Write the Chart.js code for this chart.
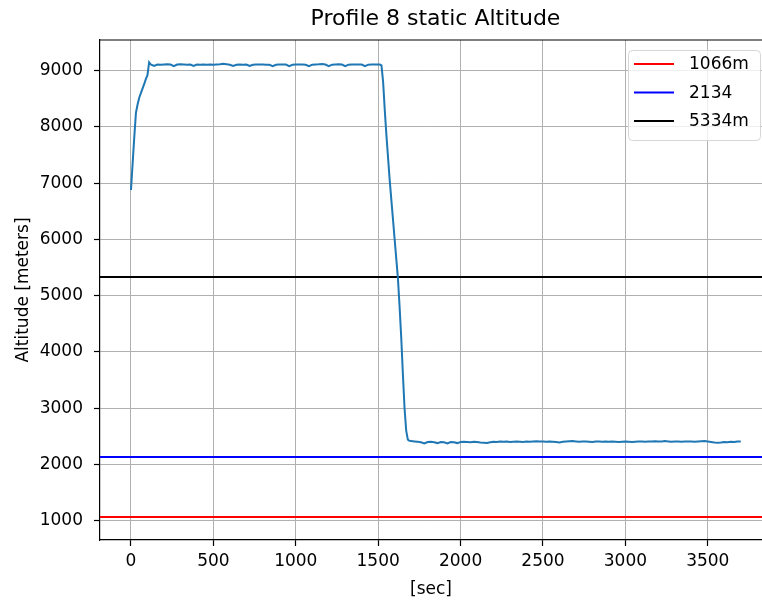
<!DOCTYPE html>
<html>
<head>
<meta charset="utf-8">
<script src="https://cdn.jsdelivr.net/npm/chart.js@4"></script>
<style>
  body { margin: 0; background: #fff; }
</style>
</head>
<body>
<canvas id="myChart" width="762" height="600"></canvas>
<script>
// measured profile: time [sec] and altitude [m]
var times = [
  0, 10, 20, 30, 40, 50, 60, 70, 80, 90, 100, 110,
  120, 140, 160, 180, 200, 220, 240, 260, 280, 300, 320, 340, 360, 380, 400, 420, 440, 460, 480, 500,
  520, 540, 560, 580, 600, 620, 640, 660, 680, 700, 720, 740, 760, 780, 800, 820, 840, 860, 880, 900,
  920, 940, 960, 980, 1000, 1020, 1040, 1060, 1080, 1100, 1120, 1140, 1160, 1180, 1200, 1220, 1240, 1260,
  1280, 1300, 1320, 1340, 1360, 1380, 1400, 1420, 1440, 1460, 1480, 1500, 1510, 1520,
  1530, 1540, 1550, 1560, 1570, 1580, 1590, 1600, 1610, 1620, 1630, 1640, 1650, 1660, 1670, 1680, 1690,
  1700, 1720, 1740, 1760, 1780, 1800, 1820, 1840, 1860, 1880, 1900, 1920, 1940, 1960, 1980, 2000,
  2020, 2040, 2060, 2080, 2100, 2120, 2140, 2160, 2180, 2200, 2220, 2240, 2260, 2280, 2300, 2320,
  2340, 2360, 2380, 2400, 2420, 2440, 2460, 2480, 2500, 2520, 2540, 2560, 2580, 2600, 2620, 2640,
  2660, 2680, 2700, 2720, 2740, 2760, 2780, 2800, 2820, 2840, 2860, 2880, 2900, 2920, 2940, 2960,
  2980, 3000, 3020, 3040, 3060, 3080, 3100, 3120, 3140, 3160, 3180, 3200, 3220, 3240, 3260, 3280,
  3300, 3320, 3340, 3360, 3380, 3400, 3420, 3440, 3460, 3480, 3500, 3520, 3540, 3560, 3580, 3600,
  3620, 3640, 3660, 3680, 3700
];
var altitude = [
  6880, 7350, 7820, 8250, 8400, 8520, 8600, 8680, 8760, 8850, 8920, 9150,
  9110, 9085, 9110, 9105, 9110, 9115, 9110, 9080, 9110, 9115, 9110, 9105, 9110, 9085, 9110, 9105, 9110, 9108, 9110, 9105,
  9110, 9115, 9125, 9115, 9105, 9085, 9105, 9110, 9108, 9110, 9085, 9105, 9110, 9112, 9110, 9108, 9105, 9080, 9105, 9110,
  9112, 9110, 9082, 9105, 9110, 9112, 9110, 9105, 9080, 9108, 9112, 9115, 9120, 9110, 9082, 9108, 9112, 9115,
  9110, 9082, 9108, 9112, 9110, 9112, 9110, 9080, 9108, 9112, 9112, 9112, 9110, 9095,
  8800, 8300, 7850, 7450, 7050, 6700, 6350, 6000, 5650, 5300, 4800, 4250, 3600, 3000, 2600, 2440, 2420,
  2415, 2410, 2405, 2395, 2375, 2400, 2405, 2395, 2380, 2400, 2395, 2375, 2400, 2395, 2380, 2400,
  2405, 2400, 2395, 2405, 2400, 2390, 2385, 2380, 2395, 2405, 2400, 2410, 2405, 2410, 2400, 2405,
  2410, 2405, 2400, 2410, 2405, 2410, 2412, 2408, 2410, 2405, 2408, 2405, 2400, 2390, 2405, 2410,
  2412, 2415, 2410, 2405, 2408, 2410, 2405, 2400, 2408, 2410, 2405, 2408, 2405, 2408, 2405, 2400,
  2405, 2408, 2405, 2400, 2405, 2410, 2408, 2405, 2408, 2410, 2412, 2408, 2410, 2415, 2410, 2405,
  2408, 2410, 2405, 2408, 2410, 2408, 2405, 2410, 2412, 2415, 2410, 2400, 2390, 2385, 2390, 2400,
  2395, 2405, 2400, 2408, 2410
];

// reference altitudes
var refLabels = ['1066m', '2134', '5334m'];
var refValues = [1066, 2134, 5334];
var refColors = ['#ff0000', '#0000ff', '#000000'];

// axis limits and ticks
var xMin = -188, xMax = 3829;
var yMin = 657, yMax = 9546;
var xTicks = [0, 500, 1000, 1500, 2000, 2500, 3000, 3500];
var yTicks = [1000, 2000, 3000, 4000, 5000, 6000, 7000, 8000, 9000];

var FONT = 'DejaVu Sans';

var datasets = [{
  label: 'altitude',
  data: times.map(function (t, i) { return { x: t, y: altitude[i] }; }),
  borderColor: '#1f77b4',
  borderWidth: 2,
  pointRadius: 0,
  tension: 0,
  inLegend: false
}];
refValues.forEach(function (v, i) {
  datasets.push({
    label: refLabels[i],
    data: [{ x: xMin, y: v }, { x: xMax, y: v }],
    borderColor: refColors[i],
    borderWidth: 2,
    pointRadius: 0,
    inLegend: true
  });
});

// title, top spine and the legend box
var decor = {
  id: 'decor',
  afterDraw: function (chart) {
    var c = chart.ctx, a = chart.chartArea;
    c.save();
    c.fillStyle = '#000';
    c.font = '22px ' + FONT;
    c.textAlign = 'center';
    c.textBaseline = 'middle';
    c.fillText('Profile 8 static Altitude', 435.5, 19);

    c.strokeStyle = '#000';
    c.lineWidth = 1.2;
    c.beginPath();
    c.moveTo(a.left, a.top);
    c.lineTo(a.right, a.top);
    c.stroke();

    var bx = 628.5, by = 50.5, bw = 132, bh = 90;
    c.beginPath();
    c.roundRect(bx, by, bw, bh, 4);
    c.fillStyle = 'rgba(255,255,255,0.8)';
    c.fill();
    c.strokeStyle = '#d6d6d6';
    c.lineWidth = 1;
    c.stroke();

    c.font = '17px ' + FONT;
    c.textAlign = 'left';
    var items = chart.data.datasets.filter(function (d) { return d.inLegend; });
    items.forEach(function (d, i) {
      var y = 64 + i * 28.5;
      c.strokeStyle = d.borderColor;
      c.lineWidth = 2;
      c.beginPath();
      c.moveTo(634, y);
      c.lineTo(674, y);
      c.stroke();
      c.fillStyle = '#000';
      c.fillText(d.label, 689, y + 1);
    });
    c.restore();
  }
};

function plain(v) { return String(v); }

var ctx = document.getElementById('myChart').getContext('2d');
var myChart = new Chart(ctx, {
  type: 'line',
  data: { datasets: datasets },
  plugins: [decor],
  options: {
    responsive: false,
    animation: false,
    layout: { padding: { top: 40, right: 0, left: 0, bottom: 0 } },
    plugins: {
      legend: { display: false },
      title: { display: false },
      tooltip: { enabled: false }
    },
    scales: {
      x: {
        type: 'linear',
        min: xMin,
        max: xMax,
        afterBuildTicks: function (s) { s.ticks = xTicks.map(function (v) { return { value: v }; }); },
        afterFit: function (s) { s.height = 60; },
        ticks: { color: '#000', font: { family: FONT, size: 17 }, padding: 5, maxRotation: 0, autoSkip: false, callback: plain },
        grid: { color: '#b0b0b0', lineWidth: 1, tickColor: '#000', tickLength: 6, tickWidth: 1.2 },
        border: { color: '#000', width: 1.2 },
        title: { display: true, text: '[sec]', color: '#000', font: { family: FONT, size: 17 }, padding: { top: 2, bottom: 0 } }
      },
      y: {
        min: yMin,
        max: yMax,
        afterBuildTicks: function (s) { s.ticks = yTicks.map(function (v) { return { value: v }; }); },
        afterFit: function (s) { s.width = 100; },
        ticks: { color: '#000', font: { family: FONT, size: 17 }, padding: 11, autoSkip: false, callback: plain },
        grid: { color: '#b0b0b0', lineWidth: 1, tickColor: '#000', tickLength: 6, tickWidth: 1.2 },
        border: { color: '#000', width: 1.2 },
        title: { display: true, text: 'Altitude [meters]', color: '#000', font: { family: FONT, size: 17 }, padding: { top: 13, bottom: 4 } }
      }
    }
  }
});
</script>
</body>
</html>
